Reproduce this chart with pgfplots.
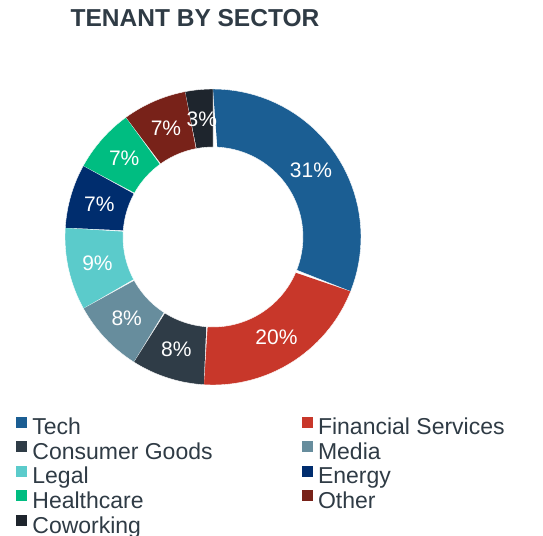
\documentclass[border=0pt]{standalone}
\usepackage{pgfplots}
\pgfplotsset{compat=1.18}
\usepackage{pgfplotstable}
\usepackage{fontspec}
\setmainfont{Liberation Sans}
\definecolor{cTech}{HTML}{1B5E93}
\definecolor{cFin}{HTML}{C8372A}
\definecolor{cCons}{HTML}{2F3C47}
\definecolor{cMedia}{HTML}{678D9D}
\definecolor{cLegal}{HTML}{5BCBCB}
\definecolor{cEnergy}{HTML}{002D6E}
\definecolor{cHealth}{HTML}{00BD81}
\definecolor{cOther}{HTML}{782219}
\definecolor{cCowork}{HTML}{1E252D}
\definecolor{txt}{HTML}{2F3B45}
% start (cumulative %) and value (%) of each sector
\pgfplotstableread{
start value lab
0  31 31\%
31 20 20\%
51 8  8\%
59 8  8\%
67 9  9\%
76 7  7\%
83 7  7\%
90 7  7\%
97 3  3\%
}\sectors
\newcommand{\slice}[3]{%
  \addplot[fill=#3, draw=white, line width=0.4pt, variable=\t,
    samples at={0,0.025,...,0.975,0.99999,1.00001,1.025,1.05,...,2}]
  ({((\t<1)*1+(\t>=1)*0.608)*cos(90-3.6*(#1+#2*min(\t,2-\t)))},
   {((\t<1)*1+(\t>=1)*0.608)*sin(90-3.6*(#1+#2*min(\t,2-\t)))});
}
\begin{document}
\begin{tikzpicture}
\path[use as bounding box] (0pt,0pt) rectangle (543pt,535pt);
\node[anchor=base, text=txt, font=\fontsize{24.5}{28}\selectfont\bfseries] at (195pt,508.3pt) {TENANT BY SECTOR};
\begin{axis}[
  at={(213pt,298pt)}, anchor=center,
  scale only axis, width=296pt, height=296pt,
  xmin=-1, xmax=1, ymin=-1, ymax=1,
  hide axis, clip=false,
  legend columns=2,
  legend cell align=left,
  legend image code/.code={\fill[#1] (0pt,1pt) rectangle (12pt,13pt);},
  legend style={at={(0,0)}, anchor=north west, xshift=-50pt, yshift=-30.5pt,
    draw=none, fill=none, inner sep=0pt, outer sep=0pt,
    font=\fontsize{23}{27}\selectfont, text=txt,
    nodes={inner sep=0pt, text height=17pt, text depth=5pt},
    row sep=0.4pt,
    /tikz/every odd column/.append style={column sep=5pt},
    /tikz/every even column/.append style={column sep=88pt}},
]
\slice{0}{31}{cTech}
\addlegendentry{Tech}
\slice{31}{20}{cFin}
\addlegendentry{Financial Services}
\slice{51}{8}{cCons}
\addlegendentry{Consumer Goods}
\slice{59}{8}{cMedia}
\addlegendentry{Media}
\slice{67}{9}{cLegal}
\addlegendentry{Legal}
\slice{76}{7}{cEnergy}
\addlegendentry{Energy}
\slice{83}{7}{cHealth}
\addlegendentry{Healthcare}
\slice{90}{7}{cOther}
\addlegendentry{Other}
\slice{97}{3}{cCowork}
\addlegendentry{Coworking}
\addplot[draw=none, mark=none, forget plot, nodes near coords,
  point meta=explicit symbolic,
  nodes near coords style={anchor=center, text=white, inner sep=0pt,
    font=\fontsize{21}{24}\selectfont}]
  table[x expr={0.80*cos(90-3.6*(\thisrow{start}+0.5*\thisrow{value}))},
        y expr={0.80*sin(90-3.6*(\thisrow{start}+0.5*\thisrow{value}))},
        meta=lab] {\sectors};
\end{axis}
\end{tikzpicture}
\end{document}
